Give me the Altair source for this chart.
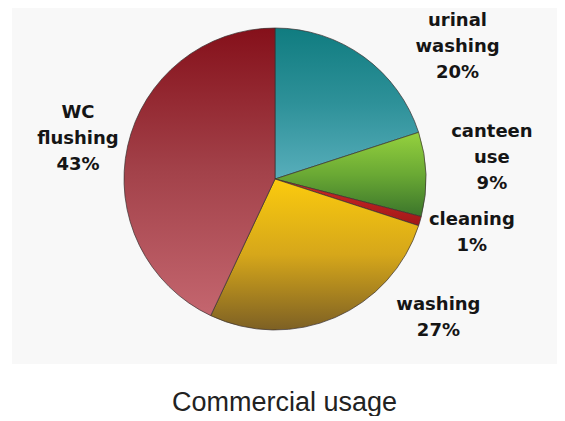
import altair as alt
import pandas as pd

# data
labels = ["urinal\nwashing", "canteen\nuse", "cleaning", "washing", "WC\nflushing"]
values = [20, 9, 1, 27, 43]

# slice gradients (top -> bottom)
grad_top = ["#107c80", "#95d13e", "#cc2c22", "#fbcb0e", "#85101a"]
grad_mid = ["#2e9199", "#6aa934", "#b82020", "#d6a71a", "#a3424a"]
grad_bot = ["#58aebb", "#3b752b", "#a01818", "#7d6024", "#c4666f"]

# label placement offsets (styling of hand-placed labels)
label_dx = [62, 12, 0, 82, 3]
label_dy = [8, -41, -16, -62, -21]

df = pd.DataFrame({"label": labels, "value": values})
df["end"] = df["value"].cumsum()
df["start"] = df["end"] - df["value"]
df["mid"] = (df["start"] + df["end"]) / 2
df["text"] = df["label"] + "\n" + df["value"].astype(str) + "%"

CX, CY = 263, 171
R = 151
theta_scale = alt.Scale(domain=[0, 100], range=[0, 6.283185307179586])

base = alt.Chart(df)
layers = []
for i, lab in enumerate(labels):
    grad = {
        "gradient": "linear",
        "x1": 0, "y1": 0, "x2": 0, "y2": 1,
        "stops": [
            {"offset": 0, "color": grad_top[i]},
            {"offset": 0.5, "color": grad_mid[i]},
            {"offset": 1, "color": grad_bot[i]},
        ],
    }
    arc = base.transform_filter(alt.datum.label == lab).mark_arc(
        radius=R, color=grad, stroke="#3a3030", strokeWidth=0.7
    ).encode(
        theta=alt.Theta("start:Q", scale=theta_scale, stack=False),
        theta2="end:Q",
        x=alt.value(CX),
        y=alt.value(CY),
    )
    txt = base.transform_filter(alt.datum.label == lab).mark_text(
        radius=205, dx=label_dx[i], dy=label_dy[i], lineBreak="\n",
        font="DejaVu Sans", fontWeight="bold", fontSize=18, lineHeight=26,
        color="#151515", align="center", baseline="middle"
    ).encode(
        theta=alt.Theta("mid:Q", scale=theta_scale, stack=False),
        text="text:N",
        x=alt.value(CX),
        y=alt.value(CY),
    )
    layers += [arc, txt]

chart = alt.layer(*layers).properties(
    width=545,
    height=356,
    padding={"left": 4, "top": 0, "right": 0, "bottom": 0},
    background="#ffffff",
    title=alt.TitleParams(
        "Commercial usage", orient="bottom", fontSize=27,
        font="Liberation Sans", fontWeight="normal", color="#222222",
        offset=26, anchor="middle"
    ),
).configure_view(fill="#f8f8f8", strokeWidth=0)

chart.save("out.html", embed_options={"renderer": "svg", "actions": False})
